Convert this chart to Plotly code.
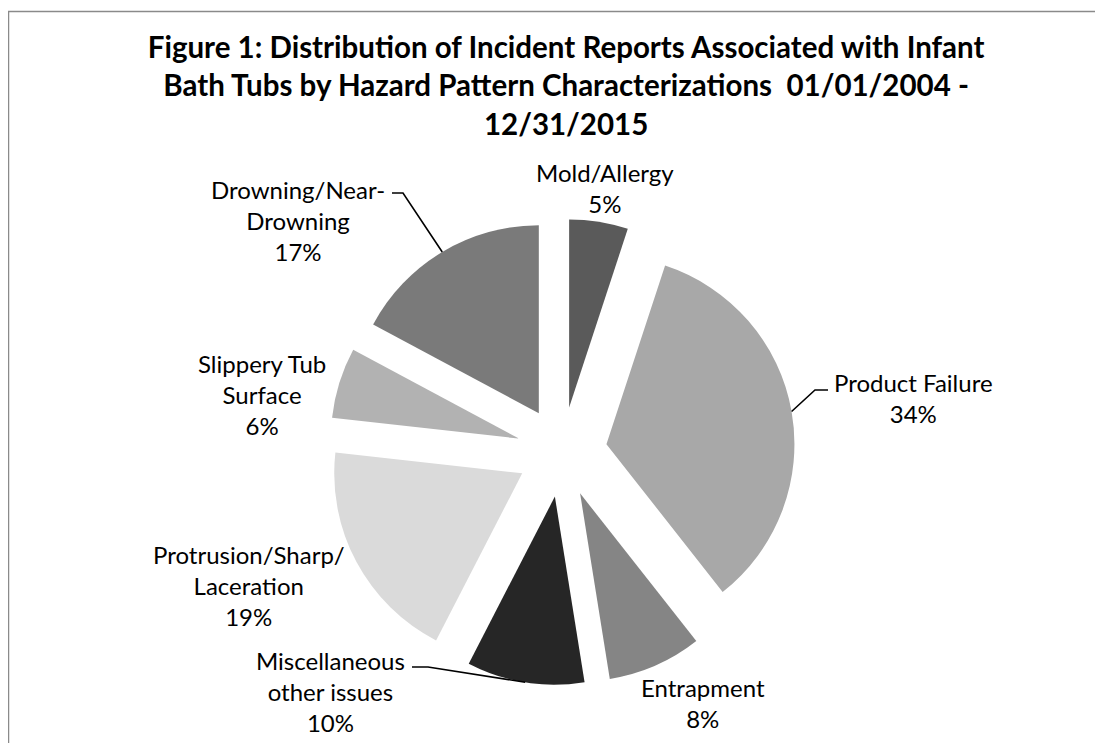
import math
import plotly.graph_objects as go

categories = [
    "Mold/Allergy",
    "Product Failure",
    "Entrapment",
    "Miscellaneous<br>other issues",
    "Protrusion/Sharp/<br>Laceration",
    "Slippery Tub<br>Surface",
    "Drowning/Near-<br>Drowning",
]
values = [5, 34, 8, 10, 19, 6, 17]
colors = ["#5a5a5a", "#a8a8a8", "#858585", "#262626", "#dadada", "#b2b2b2", "#7a7a7a"]

W, H = 1103, 743
OFF = 8  # page offset of the plot div

# pie geometry (figure pixels)
CX, CY, R, PULL = 554, 444, 188, 0.24
HALF = R * (1 + PULL)

# label block centres (screen pixels)
label_xy = [(605, 188), (913, 398), (703, 703), (330, 691), (249, 585), (262, 395), (298, 220)]
# leader lines: slice index -> (elbow, end) in screen pixels
leaders = {6: ((403, 193), (392, 193)), 1: ((815, 390), (828, 390)), 3: ((428, 667), (412, 667))}


def px(sx):
    return (sx - OFF) / W


def py(sy):
    return 1 - (sy - OFF) / H


total = sum(values)
fig = go.Figure(
    go.Pie(
        labels=[c.replace("<br>", " ") for c in categories],
        values=values,
        sort=False,
        direction="clockwise",
        rotation=0,
        pull=[PULL] * len(values),
        marker=dict(colors=colors, line=dict(width=0)),
        textinfo="none",
        domain=dict(x=[(CX - HALF) / W, (CX + HALF) / W], y=[1 - (CY + HALF) / H, 1 - (CY - HALF) / H]),
        showlegend=False,
        hoverinfo="label+percent",
    )
)

annotations = []
for i, (cat, v) in enumerate(zip(categories, values)):
    sx, sy = label_xy[i]
    annotations.append(dict(
        x=px(sx), y=py(sy), xref="paper", yref="paper",
        xanchor="center", yanchor="middle", align="center", showarrow=False,
        text=f"{cat}<br>{round(100 * v / total)}%",
        font=dict(family="Lato", size=24, color="#000000"),
    ))

shapes = [
    dict(type="rect", xref="paper", yref="paper",
         x0=0.5 / W, x1=1, y0=0, y1=1 - 3.5 / H,
         line=dict(color="#8a8a8a", width=1.5)),
]
cum = 0
for i, v in enumerate(values):
    mid = (cum + v / 2) / total * 2 * math.pi
    cum += v
    if i not in leaders:
        continue
    sx0 = CX + OFF + HALF * math.sin(mid)
    sy0 = CY + OFF - HALF * math.cos(mid)
    (ex, ey), (tx, ty) = leaders[i]
    path = f"M {px(sx0)} {py(sy0)} L {px(ex)} {py(ey)} L {px(tx)} {py(ty)}"
    shapes.append(dict(type="path", xref="paper", yref="paper", path=path,
                       line=dict(color="#000000", width=1.6)))

fig.update_layout(
    width=W,
    height=H,
    margin=dict(l=0, r=0, t=0, b=0, autoexpand=False),
    showlegend=False,
    paper_bgcolor="white",
    title=dict(
        text="<b>Figure 1: Distribution of Incident Reports Associated with Infant<br>"
        "Bath Tubs by Hazard Pattern Characterizations  01/01/2004 -<br>12/31/2015</b>",
        x=0.506,
        xanchor="center",
        y=1 - 50 / H,
        yanchor="top",
        font=dict(family="Lato", size=29.5, color="#000000"),
    ),
    shapes=shapes,
    annotations=annotations,
)

fig.write_html("out.html")
